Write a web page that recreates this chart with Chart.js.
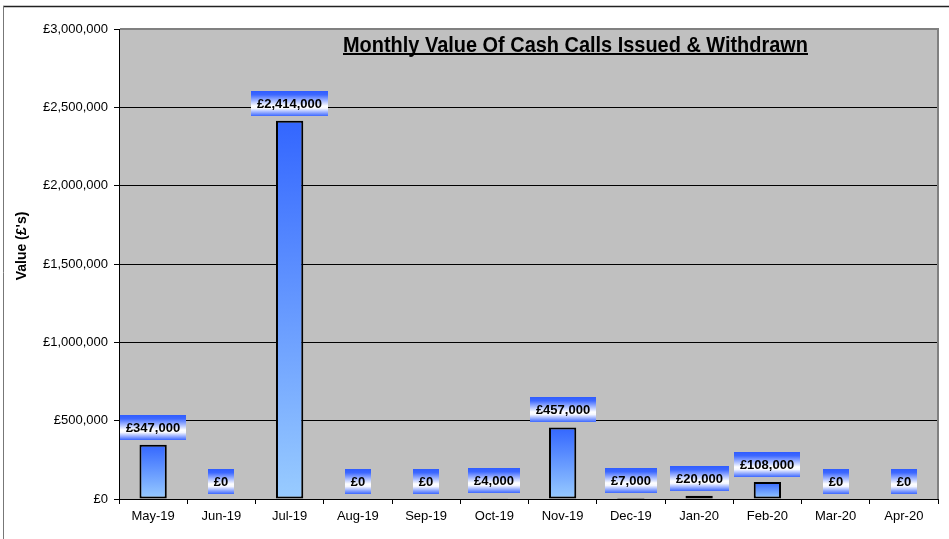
<!DOCTYPE html>
<html>
<head>
<meta charset="utf-8">
<script src="https://cdn.jsdelivr.net/npm/chart.js@4"></script>
<style>
html,body{margin:0;padding:0;background:#fff;}
#wrap{width:949px;height:539px;}
</style>
</head>
<body>
<div id="wrap"><canvas id="c" width="949" height="539"></canvas></div>
<script>
const categories = ['May-19','Jun-19','Jul-19','Aug-19','Sep-19','Oct-19','Nov-19','Dec-19','Jan-20','Feb-20','Mar-20','Apr-20'];
const values = [347000, 0, 2414000, 0, 0, 4000, 457000, 7000, 20000, 108000, 0, 0];
const yTicks = [0, 500000, 1000000, 1500000, 2000000, 2500000, 3000000];
const chartTitle = 'Monthly Value Of Cash Calls Issued & Withdrawn';
const yAxisTitle = "Value (£'s)";

const fmt = v => '£' + Number(v).toLocaleString('en-GB');
const FONT = '"Liberation Sans", Arial, sans-serif';

const decor = {
  id: 'decor',
  beforeDraw(chart) {
    const ctx = chart.ctx, a = chart.chartArea;
    ctx.save();
    ctx.fillStyle = '#ffffff';
    ctx.fillRect(0, 0, chart.width, chart.height);
    // outer frame
    ctx.strokeStyle = '#222';
    ctx.lineWidth = 1.5;
    ctx.beginPath(); ctx.moveTo(3, 6.5); ctx.lineTo(chart.width, 6.5); ctx.stroke();
    ctx.strokeStyle = '#777';
    ctx.lineWidth = 1;
    ctx.beginPath(); ctx.moveTo(3.5, 6); ctx.lineTo(3.5, chart.height); ctx.stroke();
    // plot bg
    ctx.fillStyle = '#c0c0c0';
    ctx.fillRect(a.left, a.top, a.right - a.left, a.bottom - a.top);
    ctx.restore();
  },
  afterDraw(chart) {
    const ctx = chart.ctx, a = chart.chartArea;
    ctx.save();
    // top/right plot border
    ctx.strokeStyle = '#808080';
    ctx.lineWidth = 2;
    ctx.beginPath();
    ctx.moveTo(a.left + 1, a.top);
    ctx.lineTo(a.right, a.top);
    ctx.lineTo(a.right, a.bottom);
    ctx.stroke();
    // title (condensed)
    ctx.fillStyle = '#000';
    ctx.font = 'bold 22px ' + FONT;
    const tw = ctx.measureText(chartTitle).width;
    const targetW = 465, cx = 575.5, base = 51.5;
    const sx = targetW / tw;
    ctx.save();
    ctx.translate(cx - targetW / 2, base);
    ctx.scale(sx, 1);
    ctx.textAlign = 'left';
    ctx.textBaseline = 'alphabetic';
    ctx.fillText(chartTitle, 0, 0);
    ctx.restore();
    ctx.fillRect(cx - targetW / 2, 53, targetW, 2);
    // y axis title
    ctx.save();
    ctx.translate(22, 246);
    ctx.rotate(-Math.PI / 2);
    ctx.font = 'bold 14px ' + FONT;
    ctx.textAlign = 'center';
    ctx.textBaseline = 'middle';
    ctx.fillText(yAxisTitle, 0, 0);
    ctx.restore();
    // data labels
    const meta = chart.getDatasetMeta(0);
    ctx.font = 'bold 13px ' + FONT;
    meta.data.forEach((el, i) => {
      const txt = fmt(values[i]);
      const w = Math.round(ctx.measureText(txt).width + 12);
      const h = 25;
      const x0 = Math.round(el.x - w / 2);
      const yb = Math.round(el.y - 5);
      const y0 = yb - h;
      const g = ctx.createLinearGradient(0, y0, 0, yb);
      g.addColorStop(0, '#2f5cff');
      g.addColorStop(0.15, '#3d68ff');
      g.addColorStop(0.6, '#ffffff');
      g.addColorStop(0.7, '#f4f6ff');
      g.addColorStop(1, '#3d68ff');
      ctx.fillStyle = g;
      ctx.fillRect(x0, y0, w, h);
      ctx.fillStyle = '#000';
      ctx.textAlign = 'center';
      ctx.textBaseline = 'middle';
      ctx.fillText(txt, x0 + w / 2, y0 + h / 2 + 1);
    });
    ctx.restore();
  }
};

new Chart(document.getElementById('c'), {
  type: 'bar',
  data: {
    labels: categories,
    datasets: [{
      data: values,
      backgroundColor: (c) => {
        const chart = c.chart;
        const ys = chart.scales && chart.scales.y;
        if (!ys || typeof c.raw !== 'number') return '#3366ff';
        const top = ys.getPixelForValue(c.raw);
        const bottom = ys.getPixelForValue(0);
        if (!Number.isFinite(top) || !Number.isFinite(bottom) || bottom - top < 1) return '#3366ff';
        const g = chart.ctx.createLinearGradient(0, top, 0, bottom);
        g.addColorStop(0, '#3366ff');
        g.addColorStop(1, '#99ccff');
        return g;
      },
      borderColor: '#000',
      borderWidth: 2,
      borderSkipped: false,
      barPercentage: 0.4,
      categoryPercentage: 1.0
    }]
  },
  options: {
    responsive: false,
    animation: false,
    layout: { padding: { top: 29, right: 11, left: 0, bottom: 0 } },
    plugins: { legend: { display: false }, tooltip: { enabled: false }, title: { display: false } },
    scales: {
      x: {
        offset: true,
        grid: { offset: true, drawOnChartArea: false, tickLength: 5, color: '#000', lineWidth: 1 },
        border: { color: '#000', width: 1 },
        ticks: { color: '#000', font: { family: FONT, size: 13 }, padding: 5, maxRotation: 0, autoSkip: false },
        afterFit: s => { s.height = 40; }
      },
      y: {
        min: 0,
        max: 3000000,
        afterBuildTicks: s => { s.ticks = yTicks.map(v => ({ value: v })); },
        grid: {
          color: c => (c.tick && c.tick.value === 3000000) ? '#808080' : '#000',
          tickColor: '#000',
          tickLength: 5,
          lineWidth: 1
        },
        border: { color: '#000', width: 1 },
        ticks: { color: '#000', font: { family: FONT, size: 13 }, padding: 6, callback: v => fmt(v) },
        afterFit: s => { s.width = 119; }
      }
    }
  },
  plugins: [decor]
});
</script>
</body>
</html>
